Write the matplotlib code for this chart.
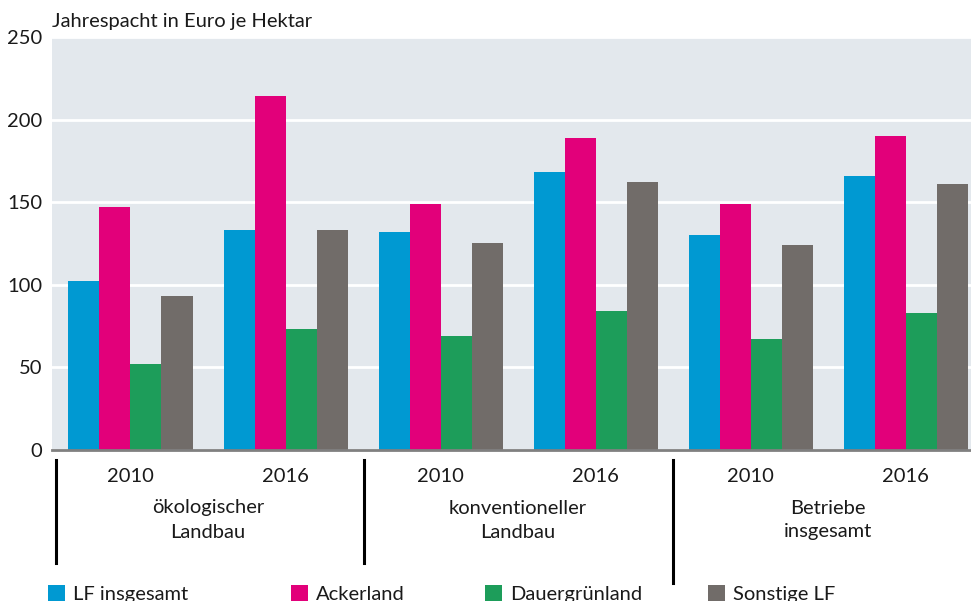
import numpy as np
import matplotlib
matplotlib.use("Agg")
import matplotlib.pyplot as plt

plt.rcParams["font.family"] = ["Lato", "DejaVu Sans"]

# ---- data ----
groups = ["ökologischer\nLandbau", "konventioneller\nLandbau", "Betriebe\ninsgesamt"]
years = ["2010", "2016"]
series = ["LF insgesamt", "Ackerland", "Dauergrünland", "Sonstige LF"]
colors = ["#0099d2", "#e2007a", "#1d9d5a", "#716c69"]

lf_insgesamt = [102, 133, 132, 168, 130, 166]
ackerland = [147, 214, 149, 189, 149, 190]
dauergruenland = [52, 73, 69, 84, 67, 83]
sonstige_lf = [93, 133, 125, 162, 124, 161]

values = [lf_insgesamt, ackerland, dauergruenland, sonstige_lf]

# ---- figure ----
fig = plt.figure(figsize=(9.71, 6.01), dpi=100)
ax = fig.add_axes([52 / 971, 1 - 450 / 601, 1 - 52 / 971, 413 / 601])
ax.set_facecolor("#e3e8ed")

x = np.arange(len(lf_insgesamt))
width = 0.2
bars = []
for i, (vals, col) in enumerate(zip(values, colors)):
    b = ax.bar(x + (i - 1.5) * width, vals, width, color=col, zorder=3, label=series[i])
    bars.append(b)

ax.set_xlim(-0.506, 5.42)
ax.set_ylim(0, 250)
ax.set_yticks(range(0, 251, 50))
ax.tick_params(axis="y", length=0, labelsize=14.5, pad=7, colors="#1a1a1a")
ax.set_xticks([])
ax.grid(axis="y", color="white", linewidth=2, zorder=1)
for s in ["top", "right", "left"]:
    ax.spines[s].set_visible(False)
ax.spines["bottom"].set_color("#808080")
ax.spines["bottom"].set_linewidth(2)
ax.spines["bottom"].set_zorder(4)

fig.text(52 / 971, 1 - 22 / 601, "Jahrespacht in Euro je Hektar", fontsize=14.5,
         ha="left", va="center", color="#1a1a1a")

# x labels: years and group names
trans = ax.get_xaxis_transform()
for xi in x:
    ax.text(xi, -26 / 413, years[xi % 2], ha="center", va="center", fontsize=14.5,
            transform=trans, color="#1a1a1a")
for gi, g in enumerate(groups):
    ax.text(2 * gi + 0.5, -70 / 413, g, ha="center", va="center", fontsize=14.5,
            transform=trans, color="#1a1a1a", linespacing=1.5)

# separators
sep_x = [-0.48, 1.506, 3.5]
sep_bottom = [-113 / 413, -113 / 413, -133 / 413]
for sx, sb in zip(sep_x, sep_bottom):
    ax.plot([sx, sx], [-10 / 413, sb], color="black", linewidth=2.2,
            transform=trans, clip_on=False)

# legend, one entry each at its own position
leg_x = [48, 291, 485, 708]
for b, lab, lx in zip(bars, series, leg_x):
    leg = fig.legend([b], [lab], loc="center left", bbox_to_anchor=(lx / 971, 1 - 594 / 601),
                     frameon=False, fontsize=14.5, handlelength=0.85, handleheight=0.85,
                     handletextpad=0.4, borderpad=0, borderaxespad=0)
    for t in leg.get_texts():
        t.set_color("#1a1a1a")

fig.savefig("out.png", dpi=100)
